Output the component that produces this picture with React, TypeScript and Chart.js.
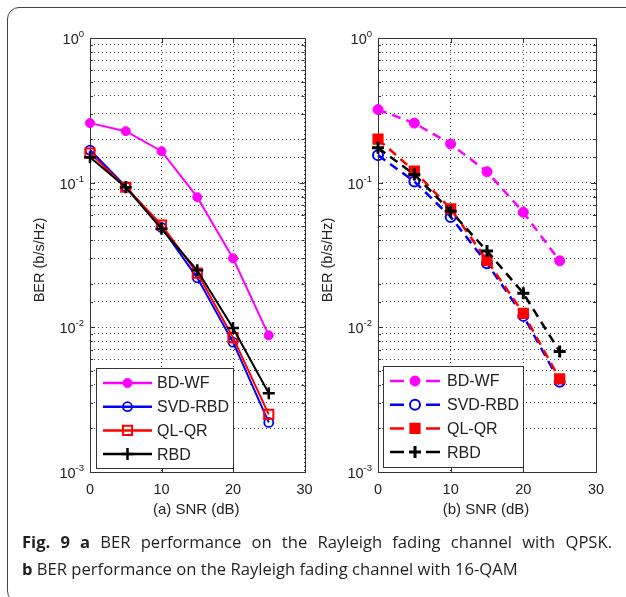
import React, { useEffect, useRef } from 'react';
import { Chart, registerables } from 'chart.js';
Chart.register(...registerables);

// ---- data ----
const snr = [0, 5, 10, 15, 20, 25];
const seriesNames = ['BD-WF', 'SVD-RBD', 'QL-QR', 'RBD'];
// (a) QPSK
const qpskBDWF = [0.258, 0.227, 0.165, 0.0794, 0.03, 0.0088];
const qpskSVDRBD = [0.168, 0.094, 0.049, 0.022, 0.0079, 0.0022];
const qpskQLQR = [0.16, 0.093, 0.051, 0.0237, 0.0085, 0.0025];
const qpskRBD = [0.15, 0.093, 0.048, 0.0248, 0.0099, 0.0035];
// (b) 16-QAM
const qamBDWF = [0.32, 0.258, 0.185, 0.119, 0.0624, 0.0288];
const qamSVDRBD = [0.155, 0.102, 0.058, 0.0277, 0.012, 0.0042];
const qamQLQR = [0.2, 0.12, 0.066, 0.029, 0.0125, 0.0044];
const qamRBD = [0.174, 0.114, 0.0635, 0.0337, 0.0172, 0.0068];

const xTicks = [0, 10, 20, 30];
const yDecades = [1e-3, 1e-2, 1e-1, 1];
const yTitle = 'BER (b/s/Hz)';
const xTitleA = '(a) SNR (dB)';
const xTitleB = '(b) SNR (dB)';

const colors = ['#ff00ff', '#0000ff', '#ff0000', '#000000'];
const TXT = '#222';
const FONT = '"Liberation Sans", Arial, sans-serif';

type Sty = { style: string; r: number; fill: boolean; lw: number };
const stylesA: Sty[] = [
  { style: 'circle', r: 4.5, fill: true, lw: 1 },
  { style: 'circle', r: 4.5, fill: false, lw: 1.8 },
  { style: 'rect', r: 6.5, fill: false, lw: 2 },
  { style: 'cross', r: 6, fill: false, lw: 2.5 },
];
const stylesB: Sty[] = [
  { style: 'circle', r: 5, fill: true, lw: 1 },
  { style: 'circle', r: 5, fill: false, lw: 2 },
  { style: 'rect', r: 6.5, fill: true, lw: 2 },
  { style: 'cross', r: 6, fill: false, lw: 3 },
];

function drawMarker(ctx: CanvasRenderingContext2D, s: Sty, x: number, y: number, color: string) {
  ctx.save();
  ctx.setLineDash([]);
  ctx.lineWidth = s.lw;
  ctx.strokeStyle = color;
  ctx.fillStyle = color;
  ctx.beginPath();
  if (s.style === 'circle') {
    ctx.arc(x, y, s.r, 0, Math.PI * 2);
    if (s.fill) ctx.fill();
    ctx.stroke();
  } else if (s.style === 'rect') {
    const h = s.r * Math.SQRT1_2;
    ctx.rect(x - h, y - h, 2 * h, 2 * h);
    if (s.fill) ctx.fill();
    ctx.stroke();
  } else {
    ctx.moveTo(x - s.r, y);
    ctx.lineTo(x + s.r, y);
    ctx.moveTo(x, y - s.r);
    ctx.lineTo(x, y + s.r);
    ctx.stroke();
  }
  ctx.restore();
}

function makeOverlay(xTitle: string, styles: Sty[], dashed: boolean, legendBox: { dx: number; w: number; dy: number; h: number }) {
  return {
    id: 'overlay',
    beforeDatasetsDraw(chart: any) {
      const { ctx, chartArea: a, scales } = chart;
      ctx.save();
      ctx.strokeStyle = '#333';
      ctx.lineWidth = 1;
      ctx.setLineDash([]);
      // inward tick marks
      ctx.beginPath();
      scales.y.ticks.forEach((t: any) => {
        const y = Math.round(scales.y.getPixelForValue(t.value)) + 0.5;
        const major = Math.abs(Math.log10(t.value) - Math.round(Math.log10(t.value))) < 1e-6;
        const len = major ? 5 : 3;
        ctx.moveTo(a.left, y); ctx.lineTo(a.left + len, y);
        ctx.moveTo(a.right, y); ctx.lineTo(a.right - len, y);
      });
      xTicks.forEach((v) => {
        const x = Math.round(scales.x.getPixelForValue(v)) + 0.5;
        ctx.moveTo(x, a.bottom); ctx.lineTo(x, a.bottom - 5);
        ctx.moveTo(x, a.top); ctx.lineTo(x, a.top + 5);
      });
      ctx.stroke();
      ctx.strokeRect(Math.round(a.left) + 0.5, Math.round(a.top) + 0.5, Math.round(a.right - a.left), Math.round(a.bottom - a.top));
      ctx.restore();
    },
    afterDraw(chart: any) {
      const { ctx, chartArea: a, scales } = chart;
      ctx.save();
      ctx.fillStyle = TXT;
      // y decade labels with superscript
      yDecades.forEach((v) => {
        const y = scales.y.getPixelForValue(v);
        const e = String(Math.round(Math.log10(v)));
        ctx.font = `9.5px ${FONT}`;
        const ew = ctx.measureText(e).width;
        ctx.font = `14.5px ${FONT}`;
        const bw = ctx.measureText('10').width;
        const right = a.left - 6;
        ctx.textAlign = 'left';
        ctx.textBaseline = 'alphabetic';
        ctx.fillText('10', right - ew - bw, y + 6);
        ctx.font = `9.5px ${FONT}`;
        ctx.fillText(e, right - ew, y - 1);
      });
      // x tick labels
      ctx.font = `14.5px ${FONT}`;
      ctx.textAlign = 'center';
      xTicks.forEach((v) => {
        ctx.fillText(String(v), scales.x.getPixelForValue(v), a.bottom + 22);
      });
      // x title
      ctx.font = `15px ${FONT}`;
      ctx.fillText(xTitle, (a.left + a.right) / 2 - 1, a.bottom + 42);
      // y title
      ctx.save();
      ctx.translate(a.left - 50, (a.top + a.bottom) / 2 + 5);
      ctx.rotate(-Math.PI / 2);
      ctx.textBaseline = 'middle';
      ctx.font = `14.5px ${FONT}`;
      ctx.fillText(yTitle, 0, 0);
      ctx.restore();
      // legend
      const lx = a.left + legendBox.dx;
      const ly = a.bottom - legendBox.dy - legendBox.h;
      ctx.fillStyle = '#fff';
      ctx.fillRect(lx, ly, legendBox.w, legendBox.h);
      ctx.strokeStyle = '#333';
      ctx.lineWidth = 1;
      ctx.strokeRect(Math.round(lx) + 0.5, Math.round(ly) + 0.5, legendBox.w, legendBox.h);
      seriesNames.forEach((name, i) => {
        const cy = ly + 15 + i * 23.7;
        const x0 = lx + 7;
        const x1 = lx + (dashed ? 57 : 56);
        const xm = (x0 + x1) / 2;
        ctx.strokeStyle = colors[i];
        ctx.lineWidth = 2.5;
        ctx.beginPath();
        if (dashed) {
          ctx.moveTo(x0, cy); ctx.lineTo(x0 + 14, cy);
          ctx.moveTo(x1 - 14, cy); ctx.lineTo(x1, cy);
        } else {
          ctx.moveTo(x0, cy); ctx.lineTo(x1, cy);
        }
        ctx.stroke();
        drawMarker(ctx, styles[i], xm, cy, colors[i]);
        ctx.fillStyle = TXT;
        ctx.font = `16px ${FONT}`;
        ctx.textAlign = 'left';
        ctx.textBaseline = 'middle';
        ctx.fillText(name, lx + (dashed ? 64 : 61), cy + 1);
      });
      ctx.restore();
    },
  };
}

function buildDatasets(series: number[][], styles: Sty[], dashed: boolean) {
  return series.map((vals, i) => ({
    label: seriesNames[i],
    data: snr.map((x, j) => ({ x, y: vals[j] })),
    borderColor: colors[i],
    backgroundColor: colors[i],
    borderWidth: dashed ? 2.5 : 2,
    borderDash: dashed ? [9, 6] : [],
    pointStyle: styles[i].style,
    pointRadius: styles[i].r,
    pointBorderWidth: styles[i].lw,
    pointBorderColor: colors[i],
    pointBackgroundColor: styles[i].fill ? colors[i] : 'rgba(0,0,0,0)',
    tension: 0,
    clip: false,
    order: 3 - i,
  }));
}

function makeConfig(series: number[][], styles: Sty[], dashed: boolean, yWidth: number, rightPad: number, xTitle: string, legendBox: any) {
  const gridOpts = { color: '#444', lineWidth: 1, drawTicks: false };
  return {
    type: 'line' as const,
    data: { datasets: buildDatasets(series, styles, dashed) },
    options: {
      responsive: false,
      animation: false as const,
      devicePixelRatio: 1,
      layout: { padding: { left: 0, top: 38, right: rightPad, bottom: 0 } },
      plugins: { legend: { display: false }, tooltip: { enabled: false } },
      scales: {
        x: {
          type: 'linear' as const,
          min: 0,
          max: 30,
          ticks: { display: false, stepSize: 10 },
          grid: gridOpts,
          border: { display: false, dash: [1, 3] },
          afterFit: (s: any) => { s.height = 58; },
        },
        y: {
          type: 'logarithmic' as const,
          min: 0.001,
          max: 1,
          ticks: { display: false },
          grid: gridOpts,
          border: { display: false, dash: [1, 3] },
          afterFit: (s: any) => { s.width = yWidth; },
        },
      },
    },
    plugins: [makeOverlay(xTitle, styles, dashed, legendBox)],
  };
}

function Plot(props: { cfg: any; left: number }) {
  const ref = useRef<HTMLCanvasElement>(null);
  useEffect(() => {
    const chart = new Chart(ref.current as HTMLCanvasElement, props.cfg);
    return () => chart.destroy();
  }, []);
  return (
    <canvas
      ref={ref}
      width={313}
      height={530}
      style={{ position: 'absolute', left: props.left, top: 0, width: 313, height: 530 }}
    />
  );
}

export default function App() {
  const cfgA = makeConfig([qpskBDWF, qpskSVDRBD, qpskQLQR, qpskRBD], stylesA, false, 90, 5, xTitleA, { dx: 6, w: 137, dy: 4, h: 100 });
  const cfgB = makeConfig([qamBDWF, qamSVDRBD, qamQLQR, qamRBD], stylesB, true, 65, 30, xTitleB, { dx: 5, w: 140, dy: 5, h: 101 });
  return (
    <div style={{ position: 'absolute', left: 0, top: 0, width: 626, height: 597, overflow: 'hidden', background: '#fff' }}>
      <div
        style={{
          position: 'absolute',
          left: 7,
          top: 7,
          width: 700,
          height: 594,
          border: '1.5px solid #444',
          borderRadius: 12,
        }}
      />
      <Plot cfg={cfgA} left={0} />
      <Plot cfg={cfgB} left={313} />
      <div
        style={{
          position: 'absolute',
          left: 22,
          top: 528,
          width: 590,
          fontFamily: '"Open Sans", sans-serif',
          fontSize: 16.6,
          lineHeight: '27px',
          color: '#231f20',
          whiteSpace: 'nowrap',
        }}
      >
        <div style={{ textAlign: 'justify', textAlignLast: 'justify', whiteSpace: 'normal' }}>
          <b>Fig. 9 a</b> BER performance on the Rayleigh fading channel with QPSK.
        </div>
        <div><b>b</b> BER performance on the Rayleigh fading channel with 16-QAM</div>
      </div>
    </div>
  );
}
